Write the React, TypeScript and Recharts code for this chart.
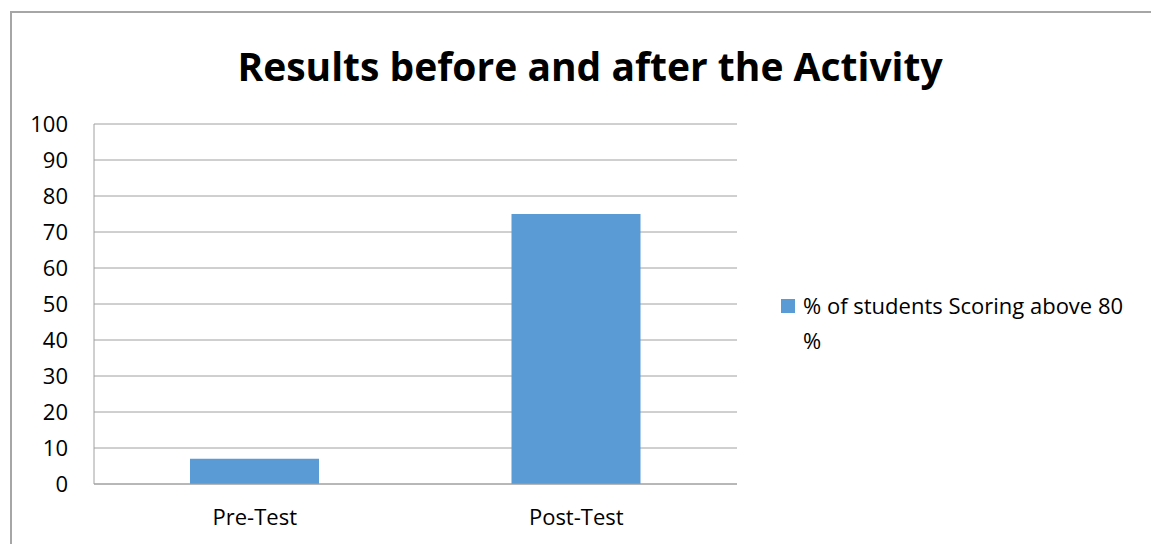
import React from "react";
import { BarChart, Bar, XAxis, YAxis, CartesianGrid } from "recharts";

const categories = ["Pre-Test", "Post-Test"];
const values = [7, 75];
const seriesName = "% of students Scoring above 80 %";
const yTicks = [0, 10, 20, 30, 40, 50, 60, 70, 80, 90, 100];
const title = "Results before and after the Activity";

const data = categories.map((c, i) => ({ name: c, value: values[i] }));

const FONT = "'Open Sans', sans-serif";
const BAR = "#5B9BD5";

export default function App() {
  return (
    <div style={{ position: "absolute", left: 0, top: 0, width: 1151, height: 544, background: "#fff", overflow: "hidden" }}>
      <div style={{ position: "absolute", left: 10, top: 11, width: 1200, height: 600, borderLeft: "2px solid #a6a6a6", borderTop: "2px solid #a6a6a6" }} />
      <div style={{ position: "absolute", left: 10, width: 1160, top: 39, lineHeight: "54px", textAlign: "center", fontFamily: FONT, fontWeight: 700, fontSize: 39, color: "#000" }}>
        {title}
      </div>
      <div style={{ position: "absolute", left: 0, top: 0 }}>
        <BarChart width={1151} height={544} data={data} margin={{ top: 124, right: 414, bottom: 30, left: 44 }}>
          <CartesianGrid horizontal vertical={false} stroke="#a0a0a0" strokeWidth={1} />
          <XAxis dataKey="name" axisLine={{ stroke: "#a0a0a0" }} tickLine={false} tickMargin={19}
            tick={{ fontFamily: FONT, fontSize: 22, fill: "#000" }} />
          <YAxis domain={[0, 100]} ticks={yTicks} width={50} axisLine={{ stroke: "#a0a0a0" }} tickLine={false}
            tickMargin={20} interval={0} tick={{ fontFamily: FONT, fontSize: 22, fill: "#000" }} />
          <Bar dataKey="value" name={seriesName} fill={BAR} barSize={129} isAnimationActive={false} />
        </BarChart>
      </div>
      <div style={{ position: "absolute", left: 781, top: 288, display: "flex", alignItems: "flex-start", fontFamily: FONT, fontSize: 22, color: "#000", lineHeight: "35px" }}>
        <div style={{ width: 14, height: 14, background: BAR, marginTop: 11, marginRight: 8, flex: "none" }} />
        <div style={{ width: 328 }}>{seriesName}</div>
      </div>
    </div>
  );
}
